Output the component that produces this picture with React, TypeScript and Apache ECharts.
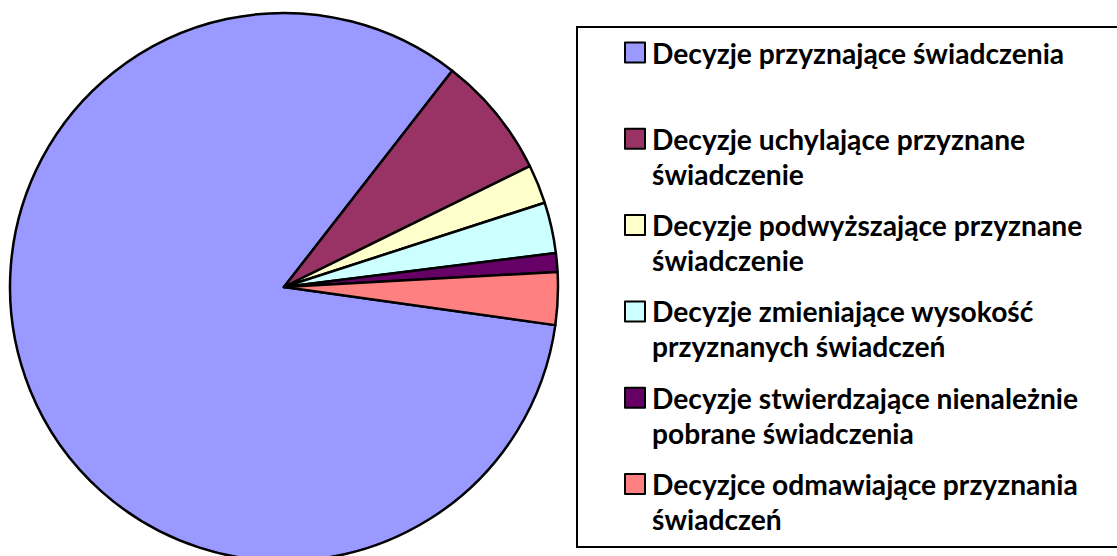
import React, { useEffect, useRef } from "react";
import * as echarts from "echarts";

const categories = [
  "Decyzje przyznające świadczenia",
  "Decyzje uchylające przyznane świadczenie",
  "Decyzje podwyższające przyznane świadczenie",
  "Decyzje zmieniające wysokość przyznanych świadczeń",
  "Decyzje stwierdzające nienależnie pobrane świadczenia",
  "Decyzjce odmawiające przyznania świadczeń",
];

const legendLines: string[][] = [
  ["Decyzje przyznające świadczenia"],
  ["Decyzje uchylające przyznane", "świadczenie"],
  ["Decyzje podwyższające przyznane", "świadczenie"],
  ["Decyzje zmieniające wysokość", "przyznanych świadczeń"],
  ["Decyzje stwierdzające nienależnie", "pobrane świadczenia"],
  ["Decyzjce odmawiające przyznania", "świadczeń"],
];

const values = [83.3, 7.2, 2.3, 3.0, 1.1, 3.1];

const colors = ["#9999FF", "#993366", "#FFFFCC", "#CCFFFF", "#660066", "#FF8080"];

const FONT = "Lato, 'Noto Sans', sans-serif";
const LINE_H = 35;
const FONT_SIZE = 28.2;

export default function App() {
  const ref = useRef<HTMLDivElement>(null);

  useEffect(() => {
    if (!ref.current) return;
    const chart = echarts.init(ref.current, undefined, { renderer: "svg" });
    const option: any = {
      animation: false,
      backgroundColor: "#ffffff",
      color: colors,
      graphic: [
        {
          type: "rect",
          shape: { x: 577, y: 27, width: 600, height: 520 },
          style: { fill: "none", stroke: "#000000", lineWidth: 2 },
          z: 0,
        },
      ],
      legend: {
        orient: "vertical",
        left: 624,
        top: 0,
        padding: 0,
        itemGap: -18.7,
        itemWidth: 20,
        itemHeight: 20,
        icon: "rect",
        selectedMode: false,
        itemStyle: { borderColor: "#000000", borderWidth: 2 },
        formatter: (name: string) => {
          const idx = categories.indexOf(name);
          const lines = legendLines[idx] || [name];
          if (lines.length === 1) return `{e| }\n{t|${lines[0]}}\n{e| }`;
          return `{e| }\n{t|${lines[0]}}\n{t|${lines[1]}}`;
        },
        textStyle: {
          lineHeight: LINE_H,
          rich: {
            t: {
              fontFamily: FONT,
              fontWeight: "bold",
              fontSize: FONT_SIZE,
              color: "#000000",
              lineHeight: LINE_H,
              padding: [0, 0, 0, 2],
            },
            e: { lineHeight: LINE_H, fontSize: FONT_SIZE },
          },
        },
        data: categories,
      },
      series: [
        {
          type: "pie",
          center: [284, 287],
          radius: 274,
          startAngle: -8,
          clockwise: true,
          label: { show: false },
          labelLine: { show: false },
          emphasis: { disabled: true },
          itemStyle: { borderColor: "#000000", borderWidth: 2.5 },
          data: categories.map((name, i) => ({ name, value: values[i] })),
        },
      ],
    };
    chart.setOption(option);
    return () => chart.dispose();
  }, []);

  return (
    <div
      ref={ref}
      style={{ position: "fixed", left: 0, top: 0, width: 1117, height: 556 }}
    />
  );
}
